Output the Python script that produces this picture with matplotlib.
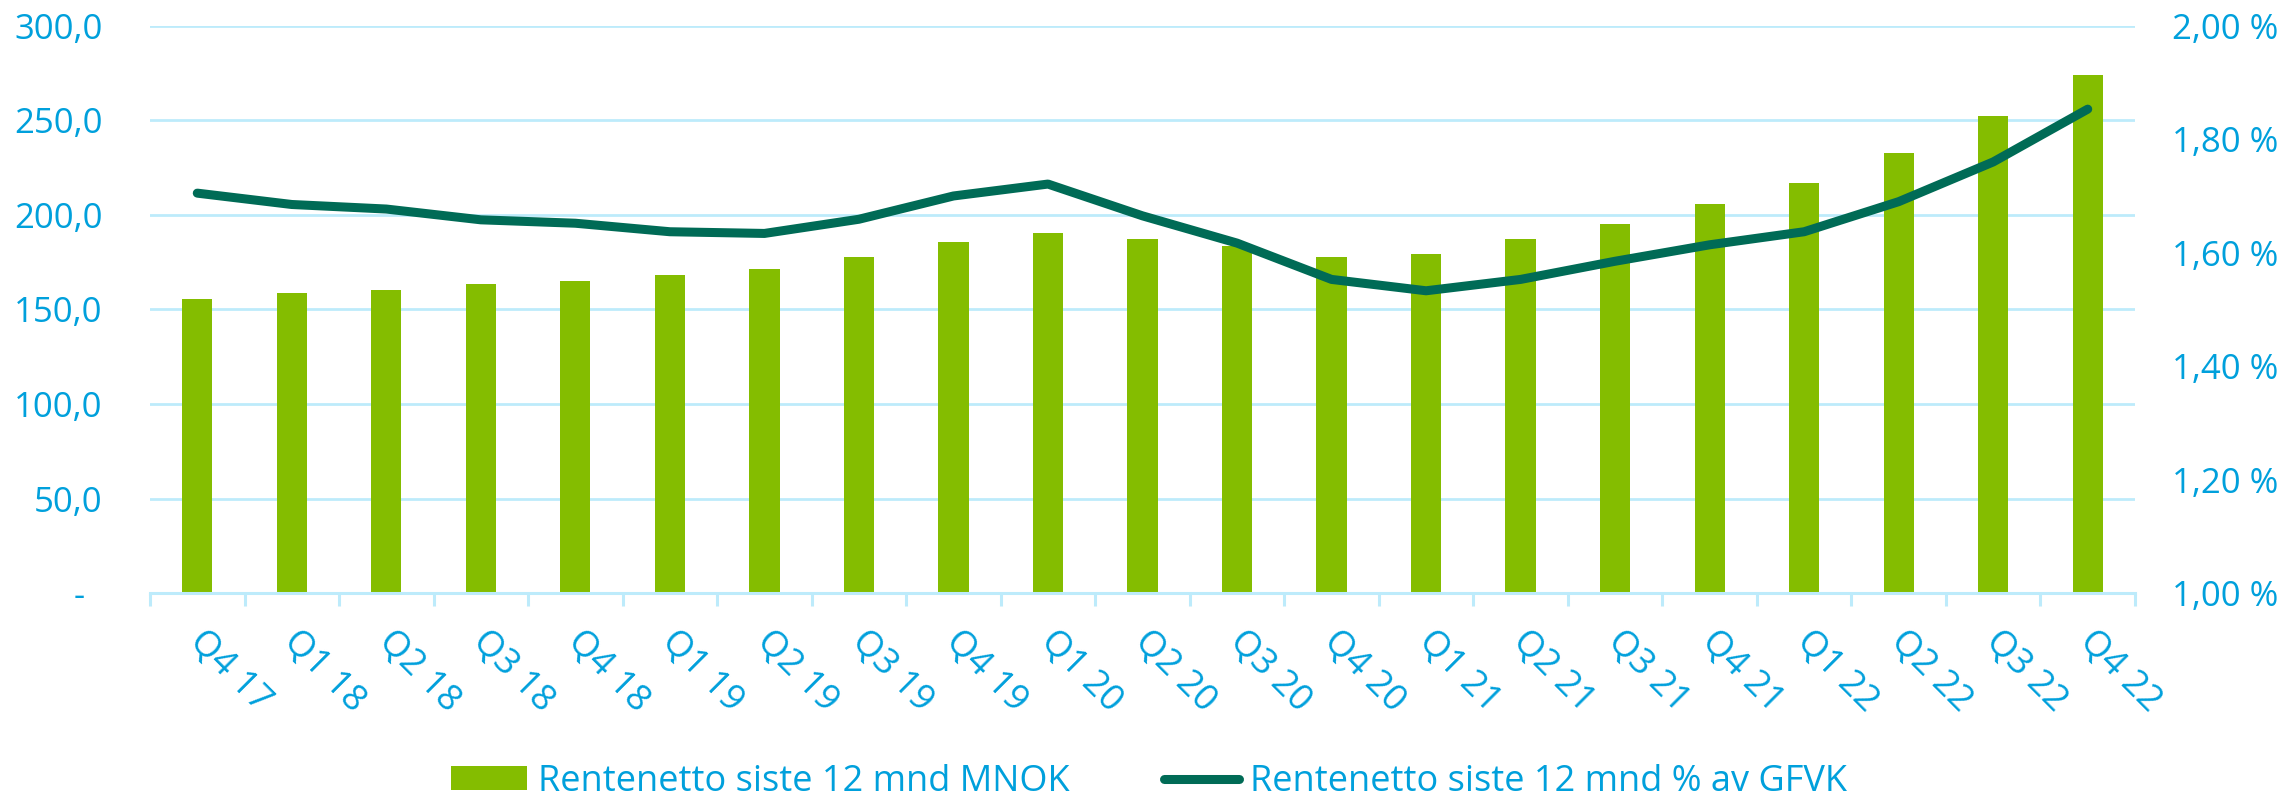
import matplotlib
matplotlib.use("Agg")
import matplotlib.pyplot as plt
import matplotlib.transforms as mtransforms
from matplotlib.ticker import FixedLocator, FuncFormatter
from matplotlib.lines import Line2D
from matplotlib.patches import Patch

categories = ["Q4 17", "Q1 18", "Q2 18", "Q3 18", "Q4 18", "Q1 19", "Q2 19",
              "Q3 19", "Q4 19", "Q1 20", "Q2 20", "Q3 20", "Q4 20", "Q1 21",
              "Q2 21", "Q3 21", "Q4 21", "Q1 22", "Q2 22", "Q3 22", "Q4 22"]
bar_values = [155.6, 158.8, 160.4, 163.5, 164.9, 168.3, 171.6, 177.7, 185.6,
              190.4, 187.2, 183.8, 177.7, 179.3, 187.2, 195.1, 205.9, 216.7,
              232.5, 252.5, 274.0]
line_values = [1.705, 1.685, 1.677, 1.658, 1.652, 1.637, 1.634, 1.659, 1.700,
               1.721, 1.665, 1.617, 1.553, 1.533, 1.553, 1.585, 1.614, 1.637,
               1.690, 1.760, 1.853]
left_ticks = [0, 50, 100, 150, 200, 250, 300]
right_ticks = [1.0, 1.2, 1.4, 1.6, 1.8, 2.0]
bar_label = "Rentenetto siste 12 mnd MNOK"
line_label = "Rentenetto siste 12 mnd % av GFVK"

BAR_C = "#84BD00"
LINE_C = "#006B56"
TXT_C = "#00A0DC"
GRID_C = "#BDEBFB"

plt.rcParams['font.family'] = ['Open Sans', 'DejaVu Sans']

DPI = 100
fig = plt.figure(figsize=(22.85, 7.98), dpi=DPI)
ax = fig.add_axes([150/2285, 1 - 593.3/798, (2135-150)/2285, (593.3-25.7)/798])
ax2 = ax.twinx()

x = list(range(len(categories)))
ax.bar(x, bar_values, width=0.32, color=BAR_C, zorder=2)
ax2.plot(x, line_values, color=LINE_C, lw=6.5, solid_capstyle='round',
         solid_joinstyle='round', zorder=3)

ax.set_xlim(-0.5, len(categories) - 0.5)
ax.set_ylim(0, 300)
ax2.set_ylim(1.0, 2.0)

for a in (ax, ax2):
    for s in a.spines.values():
        s.set_visible(False)
ax.spines['bottom'].set_visible(True)
ax.spines['bottom'].set_color(GRID_C)
ax.spines['bottom'].set_linewidth(2.2)

ax.yaxis.set_major_locator(FixedLocator(left_ticks))
ax.yaxis.set_major_formatter(FuncFormatter(
    lambda v, p: "-  " if v == 0 else f"{v:.1f}".replace(".", ",")))
ax.grid(axis='y', color=GRID_C, lw=2.0, zorder=0)
ax.set_axisbelow(True)
ax.tick_params(axis='y', length=0, pad=34, labelsize=25, labelcolor=TXT_C)

ax2.yaxis.set_major_locator(FixedLocator(right_ticks))
ax2.yaxis.set_major_formatter(FuncFormatter(
    lambda v, p: f"{v:.2f}".replace(".", ",") + " %"))
ax2.tick_params(axis='y', length=0, pad=27, labelsize=25, labelcolor=TXT_C)

ax.set_xticks(x)
ax.set_xticklabels(categories, rotation=-45, ha='left', va='center',
                   rotation_mode='anchor')
ax.set_xticks([i - 0.5 for i in range(len(categories) + 1)], minor=True)
ax.tick_params(axis='x', which='major', length=0, pad=31, labelsize=26,
               labelcolor=TXT_C)
ax.tick_params(axis='x', which='minor', length=9, width=2.2, color=GRID_C)
offset = mtransforms.ScaledTranslation(-2/72, 0, fig.dpi_scale_trans)
for lab in ax.get_xticklabels():
    lab.set_transform(lab.get_transform() + offset)

handles = [Patch(facecolor=BAR_C, edgecolor='none', label=bar_label),
           Line2D([0], [0], color=LINE_C, lw=6.5, solid_capstyle='round',
                  label=line_label)]
fig.legend(handles=handles, loc='center', bbox_to_anchor=(0.503, 1 - 782/798),
           ncol=2, frameon=False, fontsize=26, labelcolor=TXT_C,
           handlelength=2.1, handleheight=0.66, handletextpad=0.3,
           columnspacing=2.6, borderpad=0, borderaxespad=0)

fig.savefig("out.png", dpi=DPI)
